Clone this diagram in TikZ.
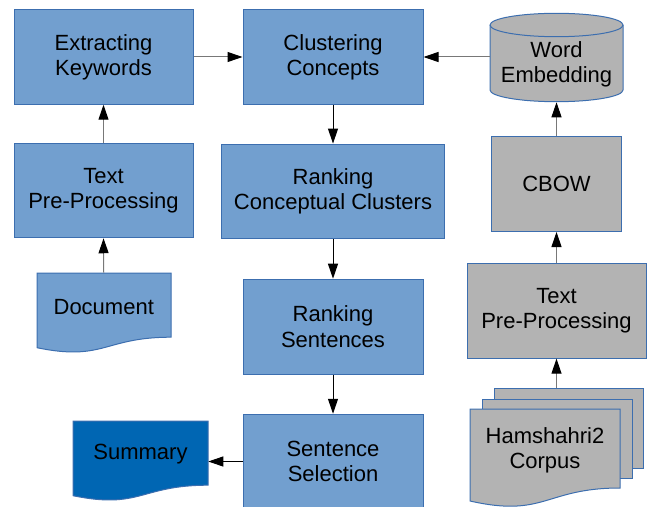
\documentclass[tikz,border=0pt]{standalone}
\usepackage{fontspec}
\setmainfont{Liberation Sans}
\usetikzlibrary{arrows.meta}

\begin{document}
\begin{tikzpicture}[x=0.75pt,y=0.75pt,yscale=-1,xscale=1,
  process/.style={draw={rgb,255:red,60;green,110;blue,175},fill={rgb,255:red,114;green,159;blue,207},line width=0.75pt,minimum width=179*0.75pt,minimum height=94.5*0.75pt,inner sep=0pt,align=center,font=\fontsize{16.5}{18.9}\selectfont},
  gprocess/.style={process,fill={rgb,255:red,179;green,179;blue,179}},
  label/.style={inner sep=0pt,align=center,font=\fontsize{16.5}{18.9}\selectfont},
  bshape/.style={draw={rgb,255:red,60;green,110;blue,175},fill={rgb,255:red,114;green,159;blue,207},line width=0.75pt},
  gshape/.style={bshape,fill={rgb,255:red,179;green,179;blue,179}},
  flow/.style={line width=0.75pt,-{Triangle[length=11.25pt,width=7.5pt,color=black]}},
  gflow/.style={flow,draw={rgb,255:red,120;green,120;blue,120}}]
\useasboundingbox (0,0) rectangle (648,506);

%Shape: Rectangle [Extracting Keywords]
\draw (103.5,57) node [process] (extract) {Extracting\\Keywords};
%Shape: Rectangle [Text Pre-Processing, left]
\draw (103.5,190.5) node [process] (tpl) {Text\\Pre-Processing};
%Shape: Rectangle [Clustering Concepts]
\draw (333,57) node [process,minimum width=180*0.75pt] (clust) {Clustering\\Concepts};
%Shape: Rectangle [Ranking Conceptual Clusters]
\draw (333,191.3) node [process,minimum width=223*0.75pt] (rcc) {Ranking\\Conceptual Clusters};
%Shape: Rectangle [Ranking Sentences]
\draw (333,326.7) node [process,minimum width=180*0.75pt,minimum height=95*0.75pt] (rs) {Ranking\\Sentences};
%Shape: Rectangle [Sentence Selection]
\draw (333,461.5) node [process,minimum width=180*0.75pt] (ss) {Sentence\\Selection};
%Shape: Rectangle [CBOW]
\draw (556.5,184) node [gprocess,minimum width=129.5*0.75pt,minimum height=95*0.75pt] (cbow) {CBOW};
%Shape: Rectangle [Text Pre-Processing, right]
\draw (556.5,310.9) node [gprocess] (tpr) {Text\\Pre-Processing};

%Shape: Can [Word Embedding]
\draw [gshape] (490,25) -- (490,90) arc (180:0:66.5 and 11.7) -- (623,25) arc (0:-180:66.5 and 11.7) -- cycle ;
\draw [gshape,fill=none] (490,25) arc (180:0:66.5 and 11.7) ;
\draw (556.5,64) node [label,minimum width=133*0.75pt,minimum height=76*0.75pt] (we) {Word\\Embedding};

%Shape: Document [Document]
\draw [bshape] (37,273) -- (171,273) -- (171,337.2) .. controls (104,337.2) and (104,361.6) .. (37,347.7) -- cycle ;
\draw (103.75,307) node [label,minimum width=134*0.75pt,minimum height=68*0.75pt] (doc) {Document};

%Shape: Document [Summary]
\draw [bshape,fill={rgb,255:red,0;green,102;blue,179}] (73,421) -- (208,421) -- (208,485.2) .. controls (140.5,485.2) and (140.5,509.6) .. (73,495.7) -- cycle ;
\draw (140.5,454.5) node [label,minimum width=135*0.75pt,minimum height=67*0.75pt] (sum) {Summary};

%Shape: Multidocument [Hamshahri2 Corpus]
\draw [gshape] (494,388) rectangle (643,468) ;
\draw [gshape] (482,399) rectangle (632,478) ;
\draw [gshape] (470,409) -- (620,409) -- (620,488) .. controls (545,488) and (545,518) .. (470,501) -- cycle ;
\draw (545,450) node [label,minimum width=150*0.75pt,minimum height=79*0.75pt] (corp) {Hamshahri2\\Corpus};
\coordinate (corptop) at (556.5,388);

%Connectors
\draw [gflow] (tpl.north) -- (extract.south) ;
\draw [gflow] (doc.north) -- (tpl.south) ;
\draw [gflow] (extract.east) -- (clust.west) ;
\draw [gflow] (we.west |- clust.east) -- (clust.east) ;
\draw [flow] (clust.south) -- (rcc.north) ;
\draw [flow] (rcc.south) -- (rs.north) ;
\draw [flow] (rs.south) -- (ss.north) ;
\draw [flow] (ss.west) -- (ss.west -| sum.east) ;
\draw [gflow] (cbow.north) -- (cbow.north |- we.south) ;
\draw [gflow] (tpr.north) -- (cbow.south) ;
\draw [gflow] (corptop) -- (tpr.south) ;

\end{tikzpicture}
\end{document}
